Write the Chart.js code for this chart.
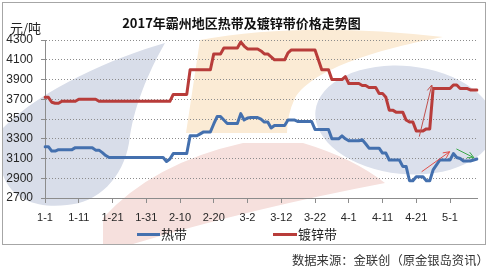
<!DOCTYPE html>
<html>
<head>
<meta charset="utf-8">
<script src="https://cdn.jsdelivr.net/npm/chart.js@4.4.1/dist/chart.umd.min.js"></script>
<style>
  body { margin: 0; width: 493px; height: 275px; background: #fff; position: relative; overflow: hidden;
         font-family: "Noto Sans CJK SC", sans-serif; color: #222; }
  #frame { position: absolute; left: 2px; top: 2px; width: 482px; height: 241px; border: 1px solid #a6a6a6; }
  #frame canvas { position: absolute; left: 0; top: 0; }
  .txt { position: absolute; white-space: nowrap; line-height: 18px; }
  .key { position: absolute; height: 3px; }
</style>
</head>
<body>
<div id="frame"><canvas id="chart" width="482" height="241"></canvas></div>
<div class="txt" style="left:10px; top:19px; font-size:13px;">元/吨</div>
<div class="key" style="left:137px; top:233px; width:23px; background:#4470AE;"></div>
<div class="txt" style="left:161px; top:225px; font-size:13px;">热带</div>
<div class="key" style="left:273px; top:233px; width:24px; background:#B83C3A;"></div>
<div class="txt" style="left:298px; top:225px; font-size:13px;">镀锌带</div>
<div class="txt" style="left:292px; top:251px; font-size:12.3px; color:#333;">数据来源：金联创（原金银岛资讯）</div>
<script>
// daily prices 1-1 .. 5-9 (129 days), yuan/ton
const hotStrip = [
  3220, 3220, 3175, 3175, 3190, 3190, 3190, 3190, 3190, 3210,
  3210, 3210, 3210, 3210, 3210, 3185, 3185, 3160, 3130, 3110,
  3110, 3110, 3110, 3110, 3110, 3110, 3110, 3110, 3110, 3110,
  3110, 3110, 3110, 3110, 3110, 3110, 3070, 3095, 3150, 3150,
  3150, 3150, 3150, 3330, 3330, 3330, 3350, 3370, 3370, 3370,
  3450, 3525, 3525, 3490, 3455, 3455, 3455, 3455, 3555, 3490,
  3510, 3515, 3515, 3515, 3500, 3470, 3470, 3410, 3435, 3435,
  3435, 3435, 3490, 3490, 3490, 3475, 3475, 3475, 3475, 3475,
  3395, 3395, 3395, 3395, 3395, 3300, 3300, 3300, 3330, 3300,
  3280, 3280, 3280, 3280, 3290, 3250, 3205, 3205, 3205, 3205,
  3155, 3155, 3085, 3085, 3085, 3085, 3020, 3020, 2875, 2875,
  2915, 2915, 2915, 2875, 2875, 2985, 3035, 3085, 3085, 3085,
  3085, 3150, 3110, 3100, 3075, 3075, 3075, 3085, 3095
];
const galvStrip = [
  3720, 3720, 3670, 3660, 3660, 3680, 3680, 3680, 3680, 3680,
  3700, 3700, 3700, 3700, 3700, 3700, 3680, 3680, 3680, 3680,
  3680, 3680, 3680, 3680, 3680, 3680, 3680, 3680, 3680, 3680,
  3680, 3680, 3680, 3680, 3680, 3680, 3680, 3680, 3750, 3750,
  3750, 3750, 3750, 4000, 4000, 4000, 4000, 4000, 4000, 4000,
  4160, 4160, 4160, 4220, 4220, 4220, 4220, 4220, 4280, 4240,
  4210, 4210, 4210, 4210, 4190, 4160, 4160, 4130, 4100, 4100,
  4100, 4100, 4170, 4200, 4200, 4200, 4200, 4200, 4200, 4200,
  4200, 4100, 4000, 4000, 4000, 3900, 3900, 3900, 3900, 3930,
  3860, 3860, 3860, 3860, 3840, 3840, 3820, 3820, 3820, 3760,
  3760, 3720, 3590, 3590, 3570, 3570, 3570, 3490, 3470, 3470,
  3380, 3380, 3380, 3400, 3400, 3810, 3810, 3810, 3810, 3810,
  3810, 3845, 3845, 3810, 3810, 3810, 3795, 3795, 3795
];
const seriesNames = ["热带", "镀锌带"];
const seriesColors = ["#4470AE", "#B83C3A"];
const yTicks = { min: 2700, max: 4300, step: 200 };

// one label per day, shown every 10 days
const dayLabels = [];
for (let i = 0; i < hotStrip.length; i++) {
  const d = new Date(2017, 0, 1 + i);
  dayLabels.push((d.getMonth() + 1) + "-" + d.getDate());
}

// hand-drawn arrows on the original, in (day index, price)
const arrows = [
  { from: [110.9, 3322], to: [114.6, 3845], color: "#c0504d" },
  { from: [111.6, 2966], to: [119.9, 3169], color: "#e2504a" },
  { from: [121.9, 3197], to: [127.1, 3108], color: "#3aa84a" }
];

// faint logo behind the plot
const watermark = {
  id: "watermark",
  beforeDraw(chart) {
    const c = chart.ctx;
    c.save();
    c.fillStyle = "#d8dde9";
    c.beginPath();
    c.moveTo(162, 40);
    c.bezierCurveTo(145, 70, 130, 105, 126, 140);
    c.bezierCurveTo(120, 175, 95, 200, 64, 202);
    c.bezierCurveTo(40, 205, 10, 200, 0, 172);
    c.lineTo(0, 125);
    c.bezierCurveTo(40, 85, 110, 55, 162, 40);
    c.fill();

    c.fillStyle = "#fbebd5";
    c.beginPath();
    c.moveTo(197, 37);
    c.quadraticCurveTo(300, 18, 440, 34);
    c.bezierCurveTo(380, 45, 310, 65, 292, 95);
    c.quadraticCurveTo(284, 112, 284, 130);
    c.lineTo(183, 130);
    c.closePath();
    c.fill();

    c.fillStyle = "#f6e0dd";
    c.beginPath();
    c.moveTo(100, 215);
    c.quadraticCurveTo(150, 160, 240, 140);
    c.lineTo(300, 140);
    c.quadraticCurveTo(350, 155, 382, 180);
    c.quadraticCurveTo(250, 205, 130, 241);
    c.lineTo(100, 241);
    c.closePath();
    c.fill();

    c.fillStyle = "#dbe0ec";
    c.beginPath();
    c.ellipse(402, 117, 90, 54, 0.1, 0, Math.PI * 2);
    c.fill();
    c.restore();
  }
};

const arrowPlugin = {
  id: "arrows",
  afterDatasetsDraw(chart) {
    const c = chart.ctx, xs = chart.scales.x, ys = chart.scales.y;
    arrows.forEach(a => {
      const x1 = xs.getPixelForValue(a.from[0]), y1 = ys.getPixelForValue(a.from[1]);
      const x2 = xs.getPixelForValue(a.to[0]), y2 = ys.getPixelForValue(a.to[1]);
      const ang = Math.atan2(y2 - y1, x2 - x1);
      c.save();
      c.strokeStyle = a.color;
      c.lineWidth = 1;
      c.beginPath();
      c.moveTo(x1, y1);
      c.lineTo(x2, y2);
      c.moveTo(x2 - 7 * Math.cos(ang - 0.45), y2 - 7 * Math.sin(ang - 0.45));
      c.lineTo(x2, y2);
      c.lineTo(x2 - 7 * Math.cos(ang + 0.45), y2 - 7 * Math.sin(ang + 0.45));
      c.stroke();
      c.restore();
    });
  }
};

const lineSet = (i, data) => ({
  label: seriesNames[i],
  data: data,
  borderColor: seriesColors[i],
  backgroundColor: seriesColors[i],
  borderWidth: 3,
  pointRadius: 0,
  tension: 0,
  fill: false,
  borderJoinStyle: "round",
  borderCapStyle: "round"
});

new Chart(document.getElementById("chart"), {
  type: "line",
  data: {
    labels: dayLabels,
    datasets: [lineSet(0, hotStrip), lineSet(1, galvStrip)]
  },
  plugins: [watermark, arrowPlugin],
  options: {
    responsive: false,
    animation: false,
    devicePixelRatio: 1,
    layout: { padding: { left: 0, right: 5, top: 0, bottom: 18 } },
    plugins: {
      legend: { display: false },
      tooltip: { enabled: false },
      title: {
        display: true,
        text: "2017年霸州地区热带及镀锌带价格走势图",
        color: "#111",
        font: { family: '"Noto Sans CJK SC"', size: 13, weight: "bold" },
        padding: { top: 12, bottom: 9.5 }
      }
    },
    scales: {
      x: {
        grid: {
          drawOnChartArea: false,
          tickLength: 5,
          tickColor: ctx => (ctx.index % 10 === 0 ? "#8c8c8c" : "rgba(0,0,0,0)")
        },
        border: { color: "#8c8c8c", width: 1 },
        ticks: {
          autoSkip: false,
          maxRotation: 0,
          minRotation: 0,
          padding: 8,
          color: "#262626",
          font: { family: "Liberation Sans", size: 11 },
          callback: (v, i) => (i % 10 === 0 ? dayLabels[i] : "")
        },
        afterFit: s => { s.height = 28; }
      },
      y: {
        min: yTicks.min,
        max: yTicks.max,
        ticks: {
          stepSize: yTicks.step,
          padding: 8,
          color: "#262626",
          font: { family: "Liberation Sans", size: 12 },
          callback: v => String(v)
        },
        grid: { color: "#8c8c8c", lineWidth: 1, tickLength: 4, tickColor: "#8c8c8c" },
        border: { color: "#8c8c8c", width: 1, dash: [1, 2] },
        afterFit: s => { s.width = 42; }
      }
    }
  }
});
</script>
</body>
</html>
